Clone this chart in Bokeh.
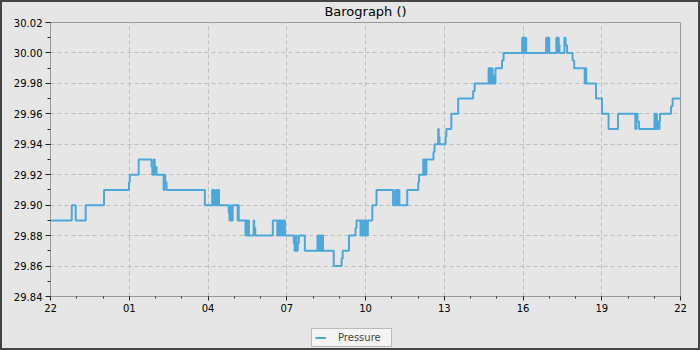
from bokeh.plotting import figure
from bokeh.layouts import column
from bokeh.models import Range1d, FixedTicker, PrintfTickFormatter, Legend, LegendItem
from bokeh.embed import file_html
from bokeh.resources import INLINE

# hours since 22:00 (step change points) and pressure (inHg)
hours = [0.00, 0.81, 0.96, 1.34, 2.04, 2.99, 3.02, 3.36, 3.85, 3.88, 3.93, 3.97, 4.00, 4.04,
         4.31, 4.34, 4.37, 4.42, 5.88, 6.16, 6.19, 6.21, 6.26, 6.33, 6.37, 6.39, 6.42,
         6.79, 6.82, 6.86, 6.89, 6.94, 7.13, 7.15, 7.17, 7.43, 7.46, 7.50, 7.53, 7.56,
         7.74, 7.76, 7.80, 8.47, 8.64, 8.67, 8.70, 8.73, 8.76, 8.79, 8.82, 8.85, 8.88, 8.90, 8.93,
         9.27, 9.30, 9.34, 9.37, 9.42, 9.46, 9.69,
         10.17, 10.20, 10.23, 10.26, 10.29, 10.32, 10.35, 10.38,
         10.79, 11.09, 11.13, 11.37, 11.62, 11.66, 11.81, 11.84, 11.87, 11.90, 11.93, 11.96,
         11.99, 12.02, 12.05, 12.09, 12.26, 12.42,
         13.05, 13.13, 13.16, 13.19, 13.22, 13.25, 13.29, 13.59,
         14.01, 14.04, 14.20, 14.23, 14.26, 14.29, 14.32, 14.59, 14.63, 14.77, 14.79, 14.82,
         15.05, 15.08, 15.27, 15.53, 16.10, 16.16,
         16.69, 16.72, 16.75, 16.78, 16.81, 16.84, 16.87, 16.90, 16.95, 17.20, 17.26,
         17.97, 18.00, 18.03, 18.06, 18.09, 18.12,
         18.88, 18.93, 18.95, 19.00, 19.27, 19.31, 19.33, 19.36, 19.39, 19.58, 19.62, 19.68,
         19.89, 19.95, 20.35, 20.38, 20.41, 20.78, 21.01, 21.26, 21.62,
         22.28, 22.32, 22.36, 22.42, 23.01, 23.04, 23.07, 23.10, 23.13, 23.18, 23.20, 23.22,
         23.64, 23.70, 24.00]
pressure = [29.89, 29.90, 29.89, 29.90, 29.91, 29.915, 29.92, 29.93, 29.925, 29.92, 29.93, 29.92, 29.925, 29.92,
            29.91, 29.92, 29.915, 29.91, 29.90, 29.91, 29.90, 29.91, 29.90, 29.91, 29.90, 29.91, 29.90,
            29.895, 29.89, 29.90, 29.89, 29.90, 29.89, 29.90, 29.89, 29.88, 29.89, 29.88, 29.89, 29.88,
            29.89, 29.885, 29.88, 29.89, 29.88, 29.89, 29.88, 29.89, 29.88, 29.89, 29.88, 29.89, 29.88, 29.89, 29.88,
            29.875, 29.87, 29.88, 29.87, 29.875, 29.88, 29.87,
            29.88, 29.87, 29.88, 29.87, 29.88, 29.87, 29.88, 29.87,
            29.86, 29.865, 29.87, 29.88, 29.885, 29.89, 29.88, 29.89, 29.88, 29.89, 29.88, 29.89,
            29.88, 29.89, 29.88, 29.89, 29.90, 29.91,
            29.90, 29.91, 29.90, 29.91, 29.90, 29.91, 29.90, 29.91,
            29.915, 29.92, 29.93, 29.92, 29.93, 29.92, 29.93, 29.935, 29.94, 29.95, 29.945, 29.94,
            29.945, 29.95, 29.96, 29.97, 29.975, 29.98,
            29.99, 29.98, 29.99, 29.98, 29.99, 29.98, 29.985, 29.98, 29.99, 29.995, 30.00,
            30.01, 30.00, 30.01, 30.00, 30.01, 30.00,
            30.01, 30.00, 30.01, 30.00, 30.01, 30.00, 30.01, 30.005, 30.00, 30.01, 30.005, 30.00,
            29.995, 29.99, 29.98, 29.99, 29.98, 29.97, 29.96, 29.95, 29.96,
            29.95, 29.96, 29.955, 29.95, 29.96, 29.95, 29.96, 29.95, 29.955, 29.95, 29.955, 29.96,
            29.965, 29.97, 29.97]

x_ticks = [0, 3, 6, 9, 12, 15, 18, 21, 24]
x_labels = ["22", "01", "04", "07", "10", "13", "16", "19", "22"]
y_ticks = [29.84, 29.86, 29.88, 29.90, 29.92, 29.94, 29.96, 29.98, 30.00, 30.02]

BG = "#e6e6e6"
FONT = "DejaVu Sans"
LINE = "#4ca7da"

p = figure(frame_width=630, frame_height=274, output_backend="svg", toolbar_location=None,
           x_range=Range1d(0, 24), y_range=Range1d(29.84, 30.02),
           title="Barograph ()",
           min_border_left=48, min_border_right=18, min_border_top=20, min_border_bottom=20)

p.background_fill_color = BG
p.border_fill_color = BG
p.outline_line_color = "#999999"

p.title.text_font = FONT
p.title.text_font_size = "13px"
p.title.text_font_style = "normal"
p.title.align = "center"
p.title.vertical_align = "top"
p.title.text_color = "#000000"
p.title.standoff = 3

r = p.step(hours, pressure, mode="after", line_color=LINE, line_width=2)

p.xaxis.ticker = FixedTicker(ticks=x_ticks, minor_ticks=list(range(0, 25)))
p.xaxis.major_label_overrides = {t: l for t, l in zip(x_ticks, x_labels)}
p.yaxis.ticker = FixedTicker(ticks=y_ticks, minor_ticks=[29.84 + 0.01 * i for i in range(19)])
p.yaxis.formatter = PrintfTickFormatter(format="%.2f")

for ax in (p.xaxis[0], p.yaxis[0]):
    ax.axis_line_color = "#999999"
    ax.major_tick_line_color = "#222222"
    ax.minor_tick_line_color = "#222222"
    ax.major_label_text_font = FONT
    ax.major_label_text_font_size = "10px"
    ax.major_label_text_color = "#000000"
    ax.major_tick_in = 0
    ax.minor_tick_in = 0
p.yaxis.major_tick_out = 5
p.yaxis.minor_tick_out = 3
p.yaxis.major_label_standoff = 3
p.xaxis.major_tick_out = 4
p.xaxis.minor_tick_out = 2
p.xaxis.major_label_standoff = 3

p.grid.grid_line_color = "#bdbdbd"
p.grid.grid_line_dash = "4 3"
p.grid.grid_line_width = 1

# strip below the chart that holds the legend (its series lies outside the strip's view)
q = figure(width=696, height=32, output_backend="svg", toolbar_location=None,
           x_range=Range1d(0, 24), y_range=Range1d(0, 1),
           x_axis_type=None, y_axis_type=None,
           min_border=0, min_border_left=0, min_border_right=0,
           min_border_top=0, min_border_bottom=0)
q.background_fill_color = BG
q.border_fill_color = BG
q.outline_line_color = None
q.grid.visible = False
swatch = q.step(hours, pressure, mode="after", line_color=LINE, line_width=2)

legend = Legend(items=[LegendItem(label="Pressure", renderers=[swatch])],
                location=(261, 1), orientation="horizontal",
                background_fill_color="#f4f4f4", background_fill_alpha=1.0,
                border_line_color="#808080", border_line_width=1,
                label_text_font=FONT, label_text_font_size="10px",
                glyph_width=11, glyph_height=11, label_height=11, label_width=50,
                label_standoff=12, padding=3, margin=0, spacing=0)
q.add_layout(legend, "center")

page = column(p, q, spacing=0, styles={"border": "2px solid #444444", "background-color": BG})

open("out.html", "w").write(file_html(page, INLINE))
